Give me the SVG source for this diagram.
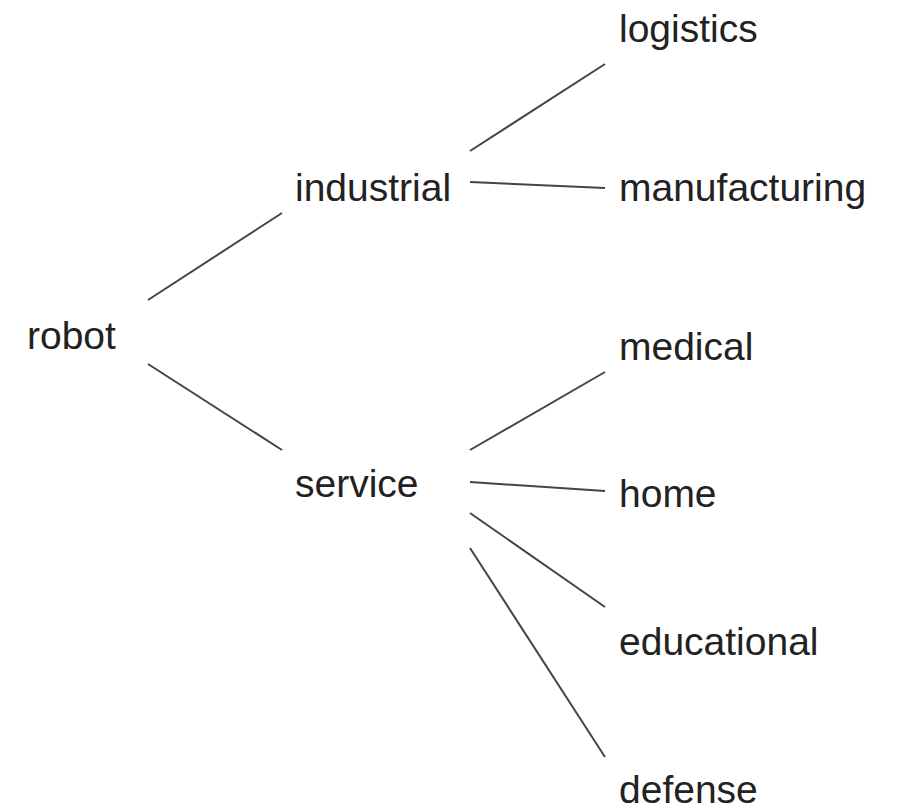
<svg xmlns="http://www.w3.org/2000/svg" width="900" height="812" viewBox="0 0 900 812">
<style>
.lbl{font-family:"Liberation Sans",Arial,Helvetica,sans-serif;font-size:39px;fill:#222}
.edge{stroke:#444;stroke-width:2;fill:none}
</style>
<rect width="900" height="812" fill="#fff"/>
<g id="connectors">
<line class="edge" x1="148" y1="300" x2="282" y2="213"/>
<line class="edge" x1="148" y1="364" x2="282" y2="450"/>
<line class="edge" x1="470" y1="151" x2="605" y2="64"/>
<line class="edge" x1="470" y1="182" x2="605" y2="188"/>
<line class="edge" x1="470" y1="450" x2="605" y2="372"/>
<line class="edge" x1="470" y1="482" x2="605" y2="491"/>
<line class="edge" x1="470" y1="513" x2="605" y2="607"/>
<line class="edge" x1="470" y1="548" x2="605" y2="757"/>
</g>
<g id="robot"><text class="lbl" x="27" y="349">robot</text></g>
<g id="industrial"><text class="lbl" x="295" y="201">industrial</text></g>
<g id="service"><text class="lbl" x="295" y="497">service</text></g>
<g id="logistics"><text class="lbl" x="619" y="42">logistics</text></g>
<g id="manufacturing"><text class="lbl" x="619" y="201">manufacturing</text></g>
<g id="medical"><text class="lbl" x="619" y="360">medical</text></g>
<g id="home"><text class="lbl" x="619" y="507">home</text></g>
<g id="educational"><text class="lbl" x="619" y="655">educational</text></g>
<g id="defense"><text class="lbl" x="619" y="803">defense</text></g>
</svg>
